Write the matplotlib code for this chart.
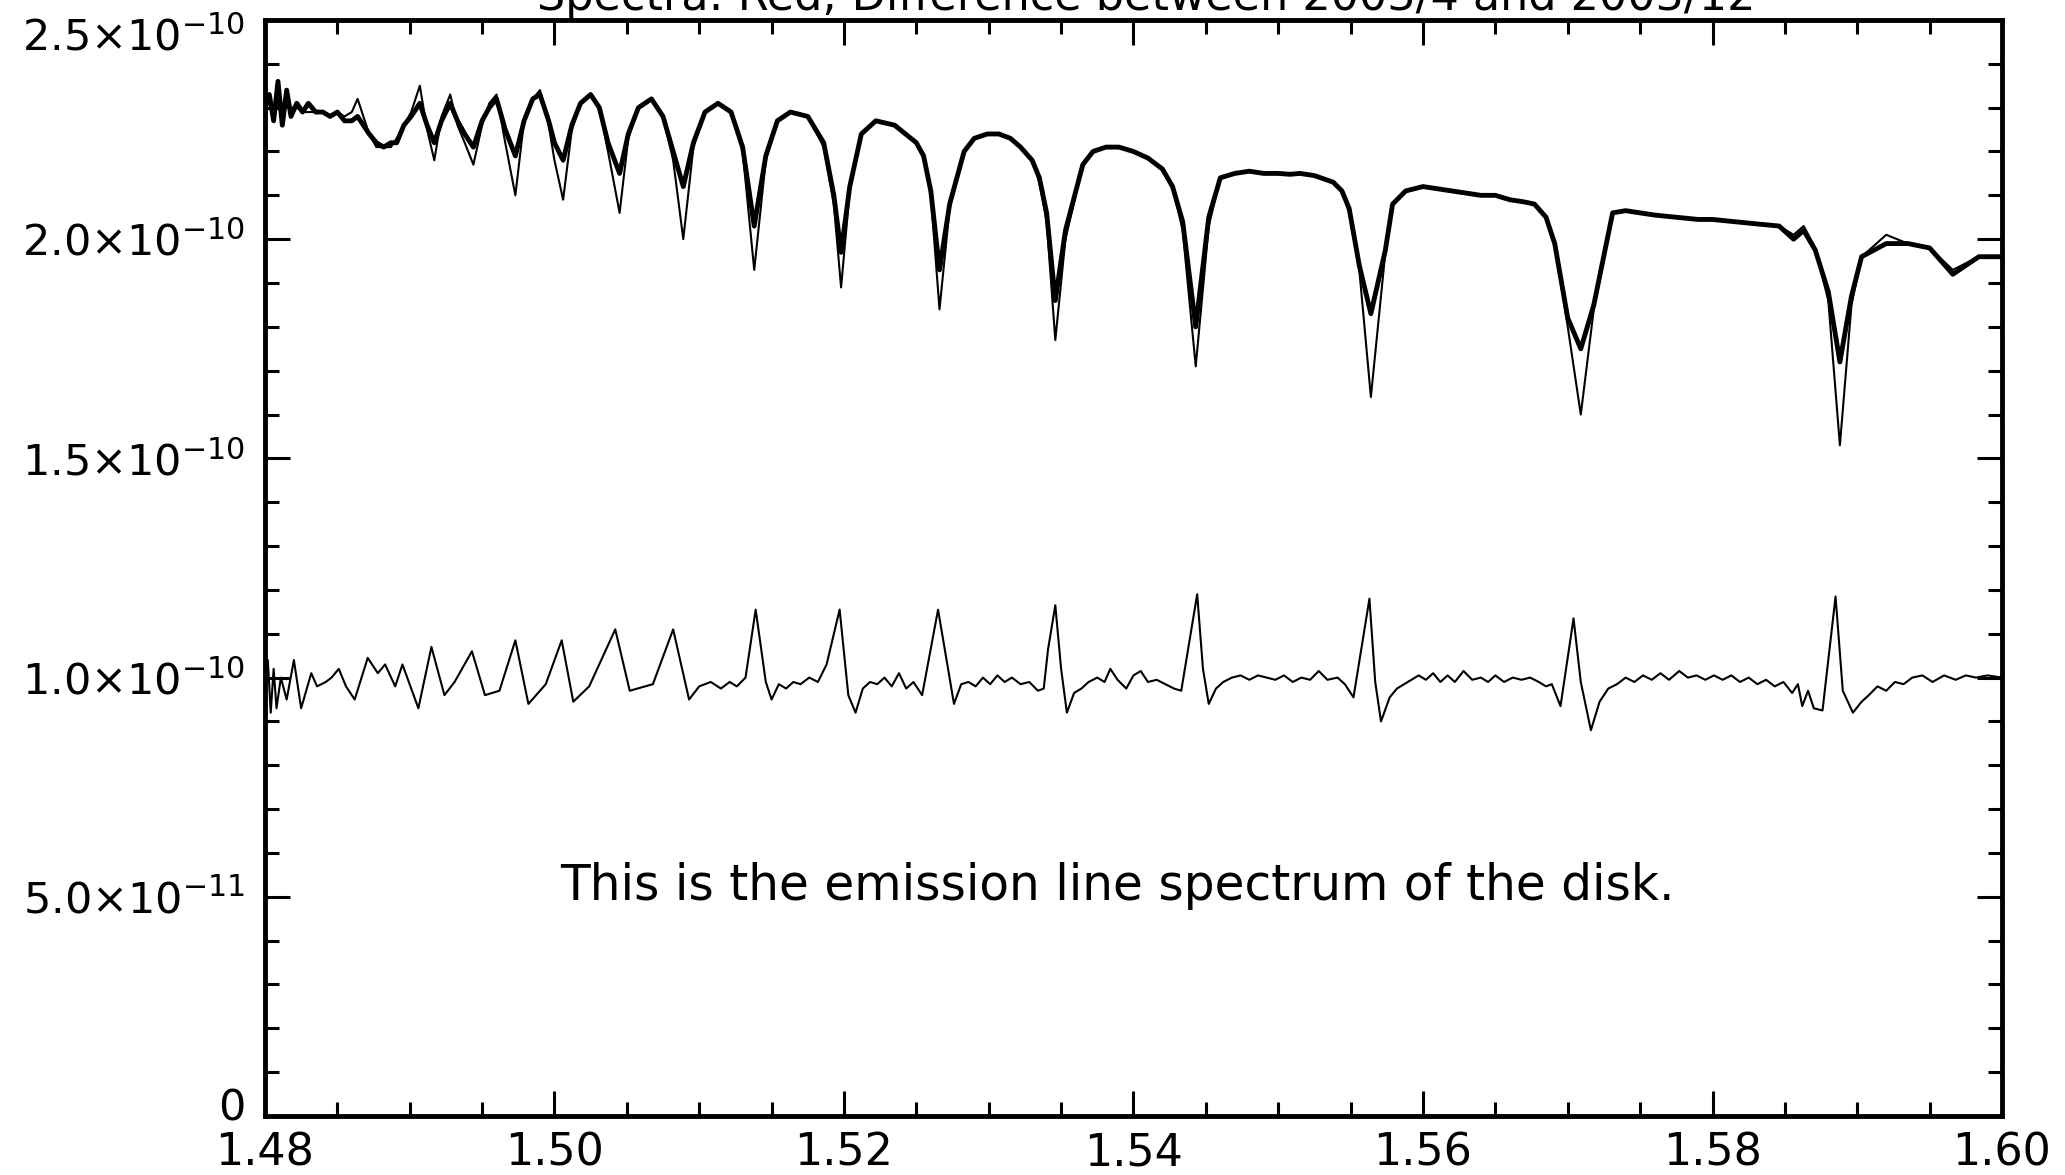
import matplotlib
matplotlib.use("Agg")
import numpy as np
import matplotlib.pyplot as plt
from matplotlib.ticker import MultipleLocator, FuncFormatter
from matplotlib.transforms import ScaledTranslation

# --- datos (longitud de onda en micrones, flujo en unidades de 1e-10) ---
wl_top = [1.4800, 1.4803, 1.4806, 1.4809, 1.4812, 1.4815, 1.4818, 1.4822, 1.4826, 1.4830,
          1.4835, 1.4840, 1.4845, 1.4850, 1.4855, 1.4860, 1.4864, 1.4868, 1.4872, 1.4877,
          1.4882, 1.4887, 1.4891, 1.4896, 1.4901, 1.4907, 1.4912, 1.4917, 1.4922, 1.4928,
          1.4933, 1.4938, 1.4944, 1.4950, 1.4955, 1.4960, 1.4966, 1.4973, 1.4979, 1.4985,
          1.4990, 1.4996, 1.5000, 1.5006, 1.5012, 1.5018, 1.5025, 1.5031, 1.5037, 1.5045,
          1.5051, 1.5058, 1.5067, 1.5075, 1.5082, 1.5089, 1.5096, 1.5104, 1.5113, 1.5122,
          1.5130, 1.5138, 1.5146, 1.5154, 1.5163, 1.5175, 1.5186, 1.5193, 1.5198, 1.5204,
          1.5212, 1.5222, 1.5235, 1.5250, 1.5255, 1.5260, 1.5266, 1.5273, 1.5283, 1.5290,
          1.5299, 1.5307, 1.5315, 1.5322, 1.5330, 1.5335, 1.5340, 1.5346, 1.5353, 1.5365,
          1.5372, 1.5381, 1.5390, 1.5400, 1.5410, 1.5420, 1.5427, 1.5434, 1.5443, 1.5452,
          1.5460, 1.5470, 1.5480, 1.5490, 1.5500, 1.5508, 1.5515, 1.5525, 1.5538, 1.5544,
          1.5549, 1.5556, 1.5564, 1.5574, 1.5579, 1.5588, 1.5600, 1.5610, 1.5620, 1.5630,
          1.5640, 1.5650, 1.5660, 1.5670, 1.5677, 1.5685, 1.5691, 1.5700, 1.5709, 1.5718,
          1.5731, 1.5740, 1.5750, 1.5760, 1.5775, 1.5790, 1.5800, 1.5815, 1.5830, 1.5846,
          1.5856, 1.5863, 1.5871, 1.5880, 1.5888, 1.5896, 1.5903, 1.5920, 1.5935, 1.5950,
          1.5966, 1.5984, 1.6000]

# espectro observado (linea gruesa)
flux_obs = [2.30, 2.33, 2.27, 2.36, 2.26, 2.34, 2.28, 2.31, 2.29, 2.31,
            2.29, 2.29, 2.28, 2.29, 2.27, 2.27, 2.28, 2.26, 2.24, 2.22,
            2.21, 2.22, 2.22, 2.26, 2.28, 2.31, 2.26, 2.22, 2.27, 2.31,
            2.27, 2.24, 2.21, 2.27, 2.30, 2.32, 2.25, 2.19, 2.27, 2.32,
            2.33, 2.27, 2.22, 2.18, 2.26, 2.31, 2.33, 2.30, 2.22, 2.15,
            2.24, 2.30, 2.32, 2.28, 2.20, 2.12, 2.22, 2.29, 2.31, 2.29,
            2.21, 2.03, 2.19, 2.27, 2.29, 2.28, 2.22, 2.10, 1.97, 2.12,
            2.24, 2.27, 2.26, 2.22, 2.19, 2.11, 1.93, 2.08, 2.20, 2.23,
            2.24, 2.24, 2.23, 2.21, 2.18, 2.14, 2.06, 1.86, 2.02, 2.17,
            2.20, 2.21, 2.21, 2.20, 2.185, 2.16, 2.12, 2.04, 1.80, 2.05,
            2.14, 2.15, 2.155, 2.15, 2.15, 2.148, 2.15, 2.145, 2.13, 2.11,
            2.07, 1.94, 1.83, 1.975, 2.08, 2.11, 2.12, 2.115, 2.11, 2.105,
            2.10, 2.10, 2.09, 2.085, 2.08, 2.05, 1.99, 1.82, 1.75, 1.85,
            2.06, 2.065, 2.06, 2.055, 2.05, 2.045, 2.045, 2.04, 2.035, 2.03,
            2.00, 2.02, 1.975, 1.88, 1.72, 1.87, 1.96, 1.99, 1.99, 1.98,
            1.92, 1.96, 1.96]

# espectro modelo (linea fina, lineas de absorcion mas profundas)
flux_model = [2.30, 2.31, 2.29, 2.31, 2.30, 2.30, 2.30, 2.30, 2.29, 2.29,
              2.29, 2.29, 2.28, 2.29, 2.28, 2.29, 2.32, 2.28, 2.24, 2.21,
              2.21, 2.21, 2.23, 2.26, 2.29, 2.35, 2.25, 2.18, 2.28, 2.33,
              2.26, 2.22, 2.17, 2.26, 2.31, 2.33, 2.22, 2.10, 2.27, 2.32,
              2.34, 2.26, 2.18, 2.09, 2.25, 2.31, 2.33, 2.30, 2.20, 2.06,
              2.23, 2.30, 2.32, 2.28, 2.18, 2.00, 2.21, 2.29, 2.31, 2.29,
              2.20, 1.93, 2.18, 2.27, 2.29, 2.28, 2.21, 2.08, 1.89, 2.11,
              2.24, 2.27, 2.26, 2.22, 2.19, 2.10, 1.84, 2.07, 2.20, 2.23,
              2.24, 2.24, 2.23, 2.21, 2.18, 2.13, 2.04, 1.77, 2.00, 2.17,
              2.20, 2.21, 2.21, 2.20, 2.185, 2.16, 2.12, 2.02, 1.71, 2.03,
              2.14, 2.15, 2.155, 2.15, 2.15, 2.148, 2.15, 2.145, 2.13, 2.11,
              2.06, 1.93, 1.64, 1.97, 2.08, 2.11, 2.12, 2.115, 2.11, 2.105,
              2.10, 2.10, 2.09, 2.085, 2.08, 2.05, 1.99, 1.80, 1.60, 1.84,
              2.06, 2.065, 2.06, 2.055, 2.05, 2.045, 2.045, 2.04, 2.035, 2.03,
              2.01, 2.03, 1.98, 1.86, 1.53, 1.85, 1.96, 2.01, 1.99, 1.98,
              1.93, 1.96, 1.96]

# diferencia (espectro de lineas de emision del disco)
wl_diff = [1.4800, 1.4802, 1.4804, 1.4806, 1.4808, 1.4811, 1.4815, 1.4820, 1.4825, 1.4832,
           1.4836, 1.4842, 1.4846, 1.4851, 1.4856, 1.4862, 1.4871, 1.4878, 1.4883, 1.4890,
           1.4895, 1.4906, 1.4915, 1.4924, 1.4931, 1.4943, 1.4952, 1.4962, 1.4973, 1.4982,
           1.4994, 1.5005, 1.5013, 1.5024, 1.5042, 1.5052, 1.5068, 1.5082, 1.5093, 1.5100,
           1.5108, 1.5115, 1.5121, 1.5126, 1.5132, 1.5139, 1.5146, 1.5150, 1.5155, 1.5160,
           1.5165, 1.5170, 1.5176, 1.5182, 1.5188, 1.5197, 1.5203, 1.5208, 1.5213, 1.5218,
           1.5223, 1.5228, 1.5233, 1.5238, 1.5243, 1.5248, 1.5254, 1.5265, 1.5276, 1.5281,
           1.5286, 1.5291, 1.5296, 1.5301, 1.5306, 1.5311, 1.5316, 1.5322, 1.5328, 1.5334,
           1.5338, 1.5341, 1.5346, 1.5350, 1.5354, 1.5359, 1.5364, 1.5369, 1.5375, 1.5380,
           1.5384, 1.5389, 1.5395, 1.5400, 1.5405, 1.5410, 1.5416, 1.5422, 1.5428, 1.5433,
           1.5444, 1.5448, 1.5452, 1.5457, 1.5462, 1.5468, 1.5474, 1.5480, 1.5486, 1.5492,
           1.5498, 1.5504, 1.5510, 1.5516, 1.5522, 1.5528, 1.5534, 1.5541, 1.5546, 1.5552,
           1.5563, 1.5567, 1.5571, 1.5577, 1.5582, 1.5587, 1.5592, 1.5597, 1.5602, 1.5607,
           1.5612, 1.5617, 1.5622, 1.5628, 1.5634, 1.5640, 1.5645, 1.5650, 1.5656, 1.5662,
           1.5668, 1.5674, 1.5680, 1.5685, 1.5689, 1.5695, 1.5704, 1.5709, 1.5716, 1.5722,
           1.5728, 1.5734, 1.5740, 1.5746, 1.5752, 1.5758, 1.5764, 1.5770, 1.5777, 1.5783,
           1.5789, 1.5795, 1.5801, 1.5807, 1.5813, 1.5819, 1.5825, 1.5831, 1.5837, 1.5843,
           1.5849, 1.5855, 1.5859, 1.5862, 1.5866, 1.5870, 1.5876, 1.5885, 1.5890, 1.5897,
           1.5903, 1.5908, 1.5914, 1.5920, 1.5926, 1.5932, 1.5938, 1.5945, 1.5952, 1.5960,
           1.5968, 1.5975, 1.5982, 1.5990, 1.6000]

flux_diff = [0.99, 1.04, 0.92, 1.02, 0.93, 1.00, 0.95, 1.04, 0.93, 1.01,
             0.98, 0.99, 1.00, 1.02, 0.98, 0.95, 1.045, 1.01, 1.03, 0.98,
             1.03, 0.93, 1.07, 0.96, 0.99, 1.06, 0.96, 0.97, 1.085, 0.94,
             0.985, 1.085, 0.945, 0.98, 1.11, 0.97, 0.985, 1.11, 0.95, 0.98,
             0.99, 0.975, 0.99, 0.98, 1.00, 1.155, 0.99, 0.95, 0.985, 0.975,
             0.99, 0.985, 1.00, 0.99, 1.03, 1.155, 0.96, 0.92, 0.975, 0.99,
             0.985, 1.00, 0.98, 1.01, 0.975, 0.99, 0.96, 1.155, 0.94, 0.985,
             0.99, 0.98, 1.00, 0.985, 1.005, 0.99, 1.00, 0.985, 0.99, 0.97,
             0.975, 1.065, 1.165, 1.02, 0.92, 0.965, 0.975, 0.99, 1.00, 0.99,
             1.02, 0.995, 0.975, 1.005, 1.015, 0.99, 0.995, 0.985, 0.975, 0.97,
             1.19, 1.02, 0.94, 0.975, 0.99, 1.00, 1.005, 0.995, 1.005, 1.00,
             0.995, 1.005, 0.99, 1.00, 0.995, 1.015, 0.995, 1.00, 0.985, 0.955,
             1.18, 0.99, 0.90, 0.955, 0.975, 0.985, 0.995, 1.005, 0.995, 1.01,
             0.99, 1.005, 0.99, 1.015, 0.995, 1.00, 0.99, 1.005, 0.99, 1.00,
             0.995, 1.00, 0.99, 0.98, 0.985, 0.935, 1.135, 0.99, 0.88, 0.945,
             0.975, 0.985, 1.00, 0.99, 1.005, 0.995, 1.01, 0.995, 1.015, 1.00,
             1.005, 0.995, 1.005, 0.995, 1.005, 0.99, 1.00, 0.985, 0.995, 0.98,
             0.99, 0.965, 0.985, 0.935, 0.97, 0.93, 0.925, 1.185, 0.97, 0.92,
             0.945, 0.96, 0.98, 0.97, 0.99, 0.985, 1.00, 1.005, 0.99, 1.005,
             0.995, 1.005, 1.00, 1.005, 1.00]

titulo = "Spectra: Red; Difference between 2003/4 and 2003/12"
nota = "This is the emission line spectrum of the disk."


def etiqueta_y(v, pos):
    # formato tipo IDL: 2.5x10^-10
    if abs(v) < 1e-15:
        return "0"
    exp = int(np.floor(np.log10(abs(v)) + 1e-6))
    m = v / 10.0 ** exp
    return r"$%.1f{\times}10^{%d}$" % (m, exp)


plt.rcParams["font.family"] = ["DejaVu Sans"]
plt.rcParams["mathtext.fontset"] = "dejavusans"

fig = plt.figure(figsize=(20.65, 11.75), dpi=100)
ax = fig.add_axes([0.1283, 0.0502, 0.8412, 0.9328])

escala = 1e-10
ax.plot(wl_top, [f * escala for f in flux_model], color="black", lw=1.5)
ax.plot(wl_top, [f * escala for f in flux_obs], color="black", lw=3.5)
ax.plot(wl_diff, [f * escala for f in flux_diff], color="black", lw=1.5)

ax.set_xlim(1.48, 1.60)
ax.set_ylim(0, 2.5e-10)

ax.xaxis.set_major_locator(MultipleLocator(0.02))
ax.xaxis.set_minor_locator(MultipleLocator(0.005))
ax.yaxis.set_major_locator(MultipleLocator(5e-11))
ax.yaxis.set_minor_locator(MultipleLocator(1e-11))
ax.xaxis.set_major_formatter(FuncFormatter(lambda v, p: "%.2f" % v))
ax.yaxis.set_major_formatter(FuncFormatter(etiqueta_y))

ax.tick_params(which="both", direction="in", top=True, right=True, width=2.2, color="black")
ax.tick_params(which="major", length=18)
ax.tick_params(which="minor", length=10)
ax.tick_params(axis="x", labelsize=32, pad=11)
ax.tick_params(axis="y", labelsize=31, pad=14)

for s in ax.spines.values():
    s.set_linewidth(3.5)

# la etiqueta de arriba baja un poco y el 0 sube, como en la imagen original
ylocs = ax.yaxis.get_majorticklocs()
for loc, t in zip(ylocs, ax.yaxis.get_major_ticks()):
    dy = 0
    if abs(loc) < 1e-15:
        dy = 12
    elif abs(loc - 2.5e-10) < 1e-15:
        dy = -14
    if dy:
        t.label1.set_transform(t.label1.get_transform() + ScaledTranslation(0, dy / 100, fig.dpi_scale_trans))

ax.text(1.5389, 5.25e-11, nota, fontsize=35, ha="center", va="center")

# titulo cortado por el borde superior, como en la imagen original
fig.text(0.555, 1 - 10 / 1175, titulo, fontsize=32, ha="center", va="baseline")

fig.savefig("out.png", dpi=100)
